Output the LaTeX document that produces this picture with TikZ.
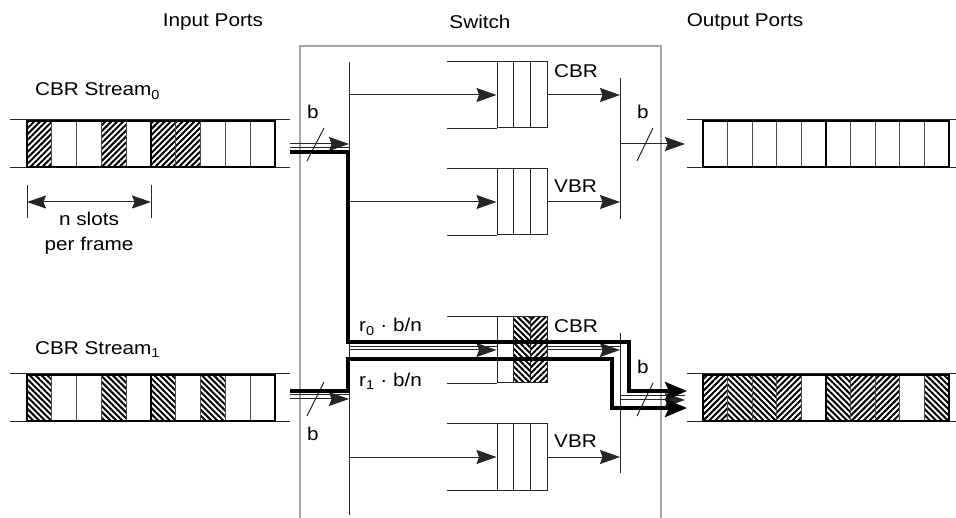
\documentclass[tikz,border=0pt]{standalone}
\usepackage{fontspec}
\setmainfont{Liberation Sans}[FakeStretch=1.12]
\usetikzlibrary{arrows.meta,patterns.meta}

\begin{document}
\begin{tikzpicture}[x=1pt, y=-1pt,
    lnk/.style={black!85, line width=1pt},
    arr/.style={lnk, -{Stealth[length=20pt, width=14pt, inset=2.5pt]}},
    flow/.style={line width=4pt, -{Stealth[length=22pt, width=18pt, inset=4pt]}},
    queue/.style={draw=black!85, line width=1pt, minimum width=50pt,
                  minimum height=66pt, inner sep=0pt},
    frm/.style={draw, line width=2.2pt},
    lbl/.style={font=\fontsize{18.5}{25}\selectfont, inner sep=0pt},
    hne/.style={pattern={Lines[angle=45, distance=4.2pt, line width=2pt]}},
    hnw/.style={pattern={Lines[angle=-45, distance=4.2pt, line width=2pt]}}
  ]
  \useasboundingbox (0,0) rectangle (956,518);
  % --- Headings ---
  \node[lbl] (inhd) at (213,22) {Input Ports};
  \node[lbl] (swhd) at (480,22) {Switch};
  \node[lbl] (outhd) at (745,22) {Output Ports};
  \draw[black!35, line width=1.2pt] (300,518) |- (661,46) -- (661,518);

  % --- Streams: rails, hatched slots, frames ---
  \foreach \sx/\sy/\rl/\rr in {27/121/10/290, 27/375/10/290,
      703/121/687/956, 703/375/687/956}
    \draw[lnk] (\rl,\sy-1) -- (\rr,\sy-1) (\rl,\sy+47) -- (\rr,\sy+47);
  \foreach \i in {0,3,5,6}
    \fill[hne] (27+\i*24.8,121) rectangle ++(24.8,46);
  \foreach \i in {0,3,5,7}
    \fill[hnw] (27+\i*24.8,375) rectangle ++(24.8,46);
  \foreach \i in {0,3,6,7}
    \fill[hne] (703+\i*24.6,375) rectangle ++(24.6,46);
  \foreach \i in {1,2,5,9}
    \fill[hnw] (703+\i*24.6,375) rectangle ++(24.6,46);
  \foreach \sx/\sy/\w in {27/121/24.8, 27/375/24.8, 703/121/24.6, 703/375/24.6} {
    \foreach \i in {1,...,9}
      \draw[black!70, line width=0.9pt] (\sx+\i*\w,\sy) -- ++(0,46);
    \draw[frm] (\sx,\sy) rectangle ++(5*\w,46) (\sx+5*\w,\sy) rectangle ++(5*\w,46);
  }
  \node[lbl, anchor=base west] (st0) at (35,96) {CBR Stream\textsubscript{0}};
  \node[lbl, anchor=base west] (st1) at (35,355) {CBR Stream\textsubscript{1}};

  % --- Frame length ---
  \coordinate (fl) at (27,202);
  \coordinate (fr) at (151,202);
  \draw[lnk] (27,185) -- (27,218) (151,185) -- (151,218);
  \draw[lnk, {Stealth[length=19pt, width=13pt, inset=2.5pt]}-{Stealth[length=19pt, width=13pt, inset=2.5pt]}] (fl) -- (fr);
  \node[lbl, align=center, anchor=north] (slots) at (89,212) {n slots\\per frame};

  % --- Queues ---
  \fill[hnw] (513.7,317) rectangle (530.3,383);
  \fill[hne] (530.3,317) rectangle (547,383);
  \foreach \q/\y in {cq0/95, vq0/202, cq1/350, vq1/457} {
    \node[queue] (\q) at (522,\y) {};
    \draw[lnk] (\q.north west) -- ++(-50,0) (\q.south west) -- ++(-50,0);
    \draw[lnk] (513.7,\y-33) -- (513.7,\y+33) (530.3,\y-33) -- (530.3,\y+33);
  }
  \node[lbl, anchor=base west] (cbr0) at (554,78) {CBR};
  \node[lbl, anchor=base west] (vbr0) at (554,193) {VBR};
  \node[lbl, anchor=base west] (cbr1) at (554,333) {CBR};
  \node[lbl, anchor=base west] (vbr1) at (554,448) {VBR};

  % --- Demux / mux bars ---
  \coordinate (dm0) at (349,144);
  \coordinate (dm1) at (349,399);
  \coordinate (mx0) at (620,144);
  \coordinate (mx1) at (620,400);
  \draw[lnk] (349,62) -- (349,245) (349,330) -- (349,515)
    (620,78) -- (620,219) (620,333) -- (620,473);

  % --- Links ---
  \coordinate (in0) at (290,144);
  \coordinate (in1) at (290,399);
  \coordinate (out0) at (685,144);
  \coordinate (out1) at (685,400);
  \draw[arr] (in0) -- (dm0);
  \draw[arr] (in1) -- (dm1);
  \draw[arr] (mx0) -- (out0);
  \draw[arr] (mx1) -- (out1);
  \foreach \q in {cq0, vq0, cq1, vq1} {
    \draw[arr] (dm0 |- \q) -- (\q.west);
    \draw[arr] (\q.east) -- (mx0 |- \q);
  }
  \draw[lnk] (307,161) -- (324,128) (637,161) -- (653,128)
    (307,416) -- (324,382) (637,416) -- (653,383);
  \node[lbl, anchor=base] (b0) at (313,119) {b};
  \node[lbl, anchor=base] (b1) at (643,119) {b};
  \node[lbl, anchor=base] (b2) at (313,440) {b};
  \node[lbl, anchor=base] (b3) at (643,374) {b};

  % --- Reserved CBR flows ---
  \draw[lnk] (290,148) -- (349,148) (290,395) -- (349,395)
    (349,346.5) -- (497,346.5) (547,346.5) -- (620,346.5) (620,396) -- (685,396);
  \coordinate (f0s) at (290,152);
  \coordinate (f0e) at (687,391);
  \coordinate (f1s) at (290,391);
  \coordinate (f1e) at (687,408);
  \draw[flow] (f0s) -| (348,342) -| (629,391) -- (f0e);
  \draw[flow] (f1s) -| (348,359) -| (612,408) -- (f1e);
  \node[lbl, anchor=base west] (r0) at (359,332) {r\textsubscript{0} · b/n};
  \node[lbl, anchor=base west] (r1) at (359,387) {r\textsubscript{1} · b/n};
\end{tikzpicture}
\end{document}
